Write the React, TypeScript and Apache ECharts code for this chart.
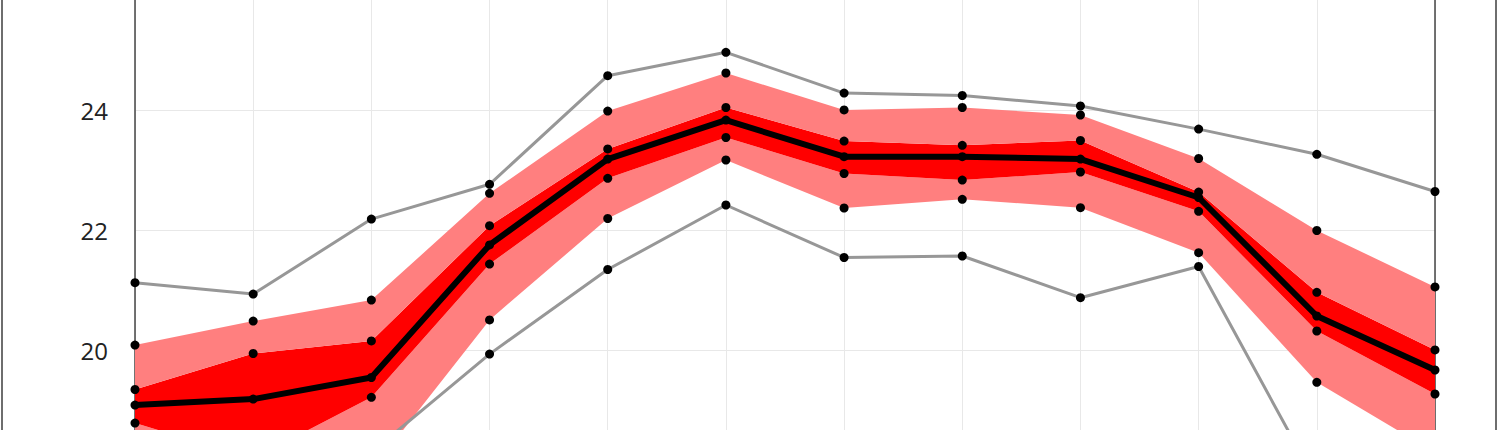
import React, { useEffect, useRef } from "react";
import * as echarts from "echarts";

const months = ["Jan", "Feb", "Mar", "Apr", "May", "Jun", "Jul", "Aug", "Sep", "Oct", "Nov", "Dec"];
const maxV = [21.13, 20.94, 22.19, 22.77, 24.58, 24.97, 24.29, 24.25, 24.075, 23.69, 23.27, 22.65];
const p90 = [20.09, 20.49, 20.84, 22.62, 23.99, 24.625, 24.01, 24.05, 23.925, 23.2, 22.0, 21.06];
const p75 = [19.35, 19.95, 20.16, 22.08, 23.36, 24.05, 23.49, 23.42, 23.5, 22.64, 20.97, 20.01];
const median = [19.09, 19.19, 19.55, 21.76, 23.19, 23.84, 23.23, 23.23, 23.19, 22.55, 20.575, 19.675];
const p25 = [18.79, 18.2, 19.22, 21.44, 22.87, 23.55, 22.95, 22.84, 22.975, 22.32, 20.325, 19.275];
const p10 = [17.9, 17.6, 18.0, 20.51, 22.2, 23.175, 22.375, 22.52, 22.38, 21.63, 19.47, 18.3];
const minV = [17.2, 16.9, 18.3, 19.94, 21.35, 22.425, 21.55, 21.575, 20.88, 21.4, 17.79, 17.0];
const yTicks = [16, 18, 20, 22, 24, 26, 28];
const visibleTicks = [20, 22, 24];

const LIGHT = "#FF7F7F";
const DARK = "#FF0000";
const GRAY = "#979797";

export default function App() {
  const ref = useRef<HTMLDivElement>(null);
  useEffect(() => {
    if (!ref.current) return;
    const chart = echarts.init(ref.current, undefined, { renderer: "svg" });
    const diff = (a: number[], b: number[]) => a.map((v, i) => +(v - b[i]).toFixed(4));
    const bandLine = { width: 0, opacity: 0 };
    const dot = (name: string, data: number[]) => ({
      name,
      type: "scatter",
      data,
      symbol: "circle",
      symbolSize: 9,
      itemStyle: { color: "#000", opacity: 1 },
      z: 5,
    });
    chart.setOption({
      animation: false,
      backgroundColor: "#fff",
      grid: { left: 135, right: 65, top: 50.5, bottom: 59.5 },
      xAxis: {
        type: "category",
        data: months,
        boundaryGap: false,
        axisLine: { show: false },
        axisTick: { show: false },
        axisLabel: { show: false },
        splitLine: { show: true, lineStyle: { color: "#e8e8e8", width: 1 } },
      },
      yAxis: [
        {
          type: "value",
          min: yTicks[0],
          max: yTicks[yTicks.length - 1],
          interval: 2,
          axisLine: { show: true, lineStyle: { color: "#444", width: 1.5 } },
          axisTick: { show: false },
          axisLabel: {
            margin: 27,
            fontFamily: "Open Sans",
            fontSize: 24,
            color: "#222",
            formatter: (v: number) => (visibleTicks.includes(v) ? String(v) : ""),
          },
          splitLine: { show: true, lineStyle: { color: "#e8e8e8", width: 1 } },
        },
        {
          type: "value",
          position: "right",
          min: yTicks[0],
          max: yTicks[yTicks.length - 1],
          interval: 2,
          axisLine: { show: true, lineStyle: { color: "#444", width: 1.5 } },
          axisTick: { show: false },
          axisLabel: { show: false },
          splitLine: { show: false },
        },
      ],
      series: [
        { name: "base", type: "line", stack: "band", data: p10, showSymbol: false, lineStyle: bandLine, z: 1 },
        { name: "p10-p25", type: "line", stack: "band", data: diff(p25, p10), showSymbol: false, lineStyle: bandLine, areaStyle: { color: LIGHT, opacity: 1 }, z: 1 },
        { name: "p25-p75", type: "line", stack: "band", data: diff(p75, p25), showSymbol: false, lineStyle: bandLine, areaStyle: { color: DARK, opacity: 1 }, z: 1 },
        { name: "p75-p90", type: "line", stack: "band", data: diff(p90, p75), showSymbol: false, lineStyle: bandLine, areaStyle: { color: LIGHT, opacity: 1 }, z: 1 },
        { name: "max", type: "line", data: maxV, symbol: "circle", symbolSize: 9, itemStyle: { color: "#000", opacity: 1 }, lineStyle: { color: GRAY, width: 3 }, z: 3 },
        { name: "min", type: "line", data: minV, symbol: "circle", symbolSize: 9, itemStyle: { color: "#000", opacity: 1 }, lineStyle: { color: GRAY, width: 3 }, z: 3 },
        { name: "median", type: "line", data: median, symbol: "circle", symbolSize: 9, itemStyle: { color: "#000", opacity: 1 }, lineStyle: { color: "#000", width: 6 }, z: 4 },
        dot("p90", p90),
        dot("p75", p75),
        dot("p25", p25),
        dot("p10", p10),
      ],
    });
    return () => chart.dispose();
  }, []);
  return (
    <div style={{ position: "fixed", left: 0, top: 0, width: 1500, height: 430, overflow: "hidden", background: "#fff" }}>
      <div ref={ref} style={{ position: "absolute", left: 0, top: -180, width: 1500, height: 830 }} />
      <div style={{ position: "absolute", left: 1, top: 0, width: 2, height: 430, background: "#6e6e6e" }} />
      <div style={{ position: "absolute", left: 1495, top: 0, width: 2, height: 430, background: "#6e6e6e" }} />
    </div>
  );
}
